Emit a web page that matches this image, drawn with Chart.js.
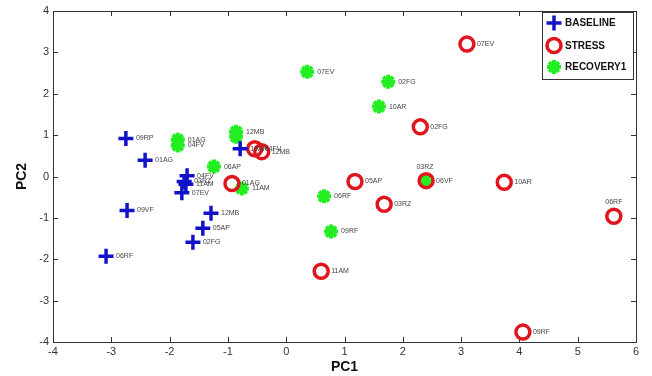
<!DOCTYPE html>
<html>
<head>
<meta charset="utf-8">
<script src="https://cdn.jsdelivr.net/npm/chart.js@4/dist/chart.umd.min.js"></script>
<style>
  html, body { margin: 0; padding: 0; background: #ffffff; }
  #wrap { width: 652px; height: 376px; }
</style>
</head>
<body>
<div id="wrap"><canvas id="c" width="652" height="376"></canvas></div>
<script>
// ---- Data ----
const baselineLabels = ['09RP', '01AG', '09VF', '06RF', '04FV', '03RZ', '11AM', '07EV', '12MB', '05AP', '02FG', '10AR'];
const baselineX = [-2.75, -2.42, -2.73, -3.09, -1.70, -1.75, -1.72, -1.79, -1.29, -1.43, -1.60, -0.79];
const baselineY = [0.92, 0.39, -0.82, -1.93, 0.02, -0.12, -0.19, -0.39, -0.89, -1.25, -1.59, 0.67];

const stressLabels = ['07EV', '02FG', '05AP', '03RZ', '06VF', '10AR', '06RF', '09RF', '11AM', '01AG', '04FV', '12MB'];
const stressX = [3.10, 2.30, 1.18, 1.68, 2.40, 3.74, 5.62, 4.06, 0.60, -0.93, -0.54, -0.42];
const stressY = [3.20, 1.20, -0.12, -0.67, -0.10, -0.14, -0.96, -3.76, -2.29, -0.17, 0.67, 0.60];

const recoveryLabels = ['07EV', '02FG', '10AR', '03RZ', '06RF', '09RF', '01AG', '04FV', '06AP', '11AM', '12MB', ''];
const recoveryX = [0.36, 1.75, 1.59, 2.38, 0.65, 0.77, -1.86, -1.86, -1.24, -0.76, -0.86, -0.86];
const recoveryY = [2.53, 2.29, 1.69, -0.10, -0.48, -1.33, 0.89, 0.75, 0.24, -0.29, 1.08, 0.96];

const seriesNames = ['BASELINE', 'STRESS', 'RECOVERY1'];
const xTicks = [-4, -3, -2, -1, 0, 1, 2, 3, 4, 5, 6];
const yTicks = [-4, -3, -2, -1, 0, 1, 2, 3, 4];

// labels drawn above their point instead of to the right
const labelsAbove = { 1: ['06RF'], 2: ['03RZ'] };

function pts(xs, ys) { return xs.map((x, i) => ({ x: x, y: ys[i] })); }

const BLUE = '#1212c8', RED = '#e0161e', GREEN = '#22ee22';

const frameTicks = {
  id: 'frameTicks',
  beforeDatasetsDraw(chart) {
    const { ctx, chartArea: a, scales } = chart;
    ctx.save();
    ctx.strokeStyle = '#333333';
    ctx.lineWidth = 1;
    ctx.strokeRect(a.left + 0.5, a.top + 0.5, a.right - a.left, a.bottom - a.top);
    const L = 5;
    ctx.beginPath();
    xTicks.forEach(v => {
      const p = Math.round(scales.x.getPixelForValue(v)) + 0.5;
      ctx.moveTo(p, a.bottom); ctx.lineTo(p, a.bottom - L);
      ctx.moveTo(p, a.top); ctx.lineTo(p, a.top + L);
    });
    yTicks.forEach(v => {
      const p = Math.round(scales.y.getPixelForValue(v)) + 0.5;
      ctx.moveTo(a.left, p); ctx.lineTo(a.left + L, p);
      ctx.moveTo(a.right, p); ctx.lineTo(a.right - L, p);
    });
    ctx.stroke();
    ctx.restore();
  }
};

const pointLabels = {
  id: 'pointLabels',
  afterDatasetsDraw(chart) {
    const { ctx } = chart;
    const lbls = [baselineLabels, stressLabels, recoveryLabels];
    ctx.save();
    ctx.font = '7px "Liberation Sans", Arial, sans-serif';
    ctx.fillStyle = '#444444';
    ctx.textBaseline = 'middle';
    chart.data.datasets.forEach((ds, di) => {
      const meta = chart.getDatasetMeta(di);
      meta.data.forEach((el, i) => {
        const t = lbls[di][i];
        if (!t) return;
        if ((labelsAbove[di] || []).includes(t)) {
          ctx.textAlign = 'center';
          ctx.fillText(t, el.x, el.y - 14);
        } else {
          ctx.textAlign = 'left';
          ctx.fillText(t, el.x + 10, el.y);
        }
      });
    });
    ctx.restore();
  }
};

const boxLegend = {
  id: 'boxLegend',
  afterDraw(chart) {
    const { ctx } = chart;
    const bx = 542, by = 12, bw = 91, bh = 67;
    ctx.save();
    ctx.fillStyle = '#ffffff';
    ctx.fillRect(bx, by, bw, bh);
    ctx.strokeStyle = '#333333';
    ctx.lineWidth = 1;
    ctx.strokeRect(bx + 0.5, by + 0.5, bw, bh);
    const rows = [23, 45.5, 67];
    chart.data.datasets.forEach((ds, i) => {
      const cy = rows[i], cx = 554;
      ctx.strokeStyle = ds.pointBorderColor;
      ctx.fillStyle = ds.pointBackgroundColor;
      ctx.lineWidth = ds.pointBorderWidth;
      Chart.helpers.drawPoint(ctx, {
        pointStyle: ds.pointStyle, radius: ds.pointRadius, rotation: 0,
        borderWidth: ds.pointBorderWidth
      }, cx, cy);
      ctx.fillStyle = '#111111';
      ctx.font = 'bold 10px "Liberation Sans", Arial, sans-serif';
      ctx.textAlign = 'left';
      ctx.textBaseline = 'middle';
      ctx.fillText(seriesNames[i], 565, cy + 0.5);
    });
    ctx.restore();
  }
};

new Chart(document.getElementById('c'), {
  type: 'scatter',
  data: {
    datasets: [
      { label: seriesNames[0], data: pts(baselineX, baselineY), pointStyle: 'cross',
        pointRadius: 7.5, pointBorderWidth: 3.5, pointBorderColor: BLUE, pointBackgroundColor: BLUE },
      { label: seriesNames[1], data: pts(stressX, stressY), pointStyle: 'circle',
        pointRadius: 7, pointBorderWidth: 3.5, pointBorderColor: RED, pointBackgroundColor: 'rgba(0,0,0,0)' },
      { label: seriesNames[2], data: pts(recoveryX, recoveryY), pointStyle: 'star',
        pointRadius: 7, pointBorderWidth: 4, pointBorderColor: GREEN, pointBackgroundColor: GREEN }
    ]
  },
  options: {
    responsive: false,
    animation: false,
    events: [],
    layout: { padding: { top: 10, right: 16, left: 0, bottom: 0 } },
    plugins: { legend: { display: false }, tooltip: { enabled: false } },
    scales: {
      x: {
        type: 'linear', min: -4, max: 6,
        afterBuildTicks(s) { s.ticks = xTicks.map(v => ({ value: v })); },
        grid: { display: false, drawTicks: false },
        border: { display: false },
        ticks: { color: '#333333', padding: 3, maxRotation: 0,
                 font: { family: '"Liberation Sans", Arial, sans-serif', size: 11 } },
        title: { display: true, text: 'PC1', color: '#111111', padding: { top: 1, bottom: 0 },
                 font: { family: '"Liberation Sans", Arial, sans-serif', size: 14, weight: 'bold' } },
        afterFit(s) { s.height = 34; }
      },
      y: {
        type: 'linear', min: -4, max: 4,
        afterBuildTicks(s) { s.ticks = yTicks.map(v => ({ value: v })); },
        grid: { display: false, drawTicks: false },
        border: { display: false },
        ticks: { color: '#333333', padding: 4,
                 font: { family: '"Liberation Sans", Arial, sans-serif', size: 11 } },
        title: { display: true, text: 'PC2', color: '#111111', padding: { top: 14, bottom: 0 },
                 font: { family: '"Liberation Sans", Arial, sans-serif', size: 14, weight: 'bold' } },
        afterFit(s) { s.width = 53; }
      }
    }
  },
  plugins: [frameTicks, pointLabels, boxLegend]
});
</script>
</body>
</html>
